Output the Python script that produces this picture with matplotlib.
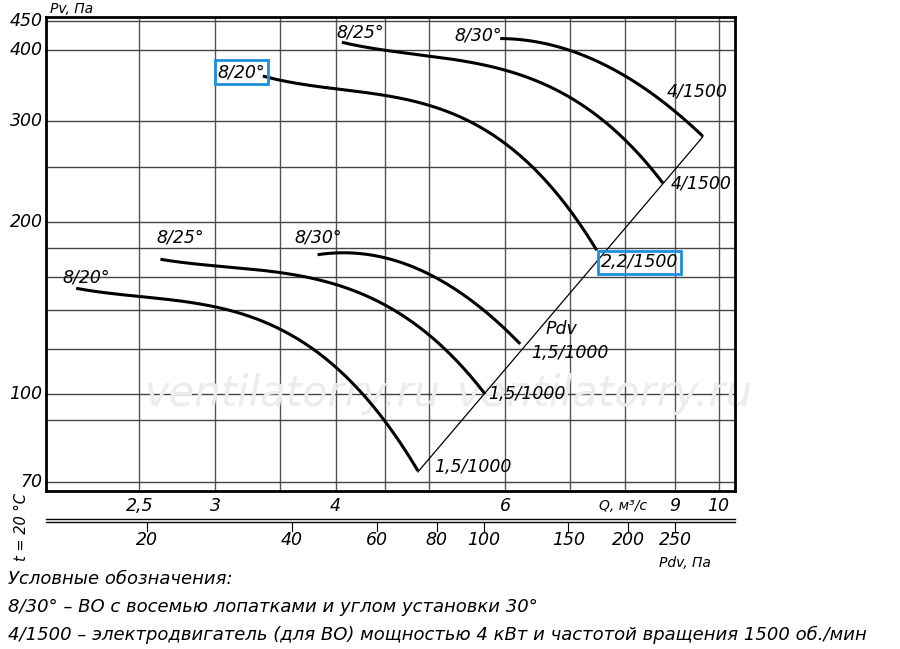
import matplotlib
matplotlib.use("Agg")
import matplotlib.pyplot as plt
import numpy as np

plt.rcParams['font.family'] = ['Liberation Sans Narrow', 'DejaVu Sans']
plt.rcParams['font.style'] = 'italic'

# Data: Q in m3/s, Pv in Pa
u20_q = [3.36, 4.0, 4.48, 5.0, 6.0, 7.0, 7.47]
u20_p = [359, 345, 334, 318, 271, 217, 175]
u25_q = [4.06, 4.48, 5.0, 6.0, 7.0, 8.0, 8.75]
u25_p = [412, 402, 389, 369, 331, 278, 234]
u30_q = [5.93, 7.0, 8.0, 9.0, 9.63]
u30_p = [419, 400, 359, 314, 282]
l20_q = [2.15, 2.5, 3.0, 3.5, 4.0, 4.48, 4.87]
l20_p = [152.7, 149, 141.5, 129.4, 111.5, 91.1, 73]
l25_q = [2.63, 3.0, 3.5, 4.0, 4.48, 5.0, 5.72]
l25_p = [171.7, 168.3, 163, 155, 143, 128, 99.6]
l30_q = [3.83, 4.48, 5.0, 5.97, 6.22]
l30_p = [176.6, 170, 163, 136, 118.5]
pdv_q = [4.87, 9.63]
pdv_p = [73, 282]

q_grid = [2.5, 3, 3.5, 4, 4.5, 5, 6, 7, 8, 9, 10]
q_labels = {2.5: "2,5", 3: "3", 4: "4", 6: "6", 9: "9", 10: "10"}
p_grid = [450, 400, 300, 250, 200, 180, 160, 140, 120, 100, 90, 70]
p_labels = [450, 400, 300, 200, 100, 70]
pdv_ticks = [20, 40, 60, 80, 100, 150, 200, 250]
pdv_k = 3.08  # Pdv = k * Q^2

fig = plt.figure(figsize=(9, 6.49), dpi=100)
ax = fig.add_axes([46/900, 1-491/649, 689/900, 474/649])
ax.set_xscale('log'); ax.set_yscale('log')
ax.set_xlim(2.0, 10.4); ax.set_ylim(67.6, 457)
ax.xaxis.set_major_locator(matplotlib.ticker.NullLocator())
ax.yaxis.set_major_locator(matplotlib.ticker.NullLocator())
ax.xaxis.set_minor_locator(matplotlib.ticker.NullLocator())
ax.yaxis.set_minor_locator(matplotlib.ticker.NullLocator())
for s in ax.spines.values():
    s.set_linewidth(2)

for q in q_grid:
    ax.axvline(q, color='#555555', lw=1, zorder=1)
for p in p_grid:
    ax.axhline(p, color='#444444', lw=1, zorder=1)

# watermark
for xq in [3.6, 7.6]:
    ax.text(xq, 100, "ventilatorry.ru", fontsize=30, color='#ececec',
            ha='center', va='center', zorder=1.5, family=['DejaVu Sans'], style='italic')

def smooth(q, p, deg):
    lq, lp = np.log10(q), np.log10(p)
    c = np.polyfit(lq, lp, deg)
    xs = np.linspace(lq[0], lq[-1], 200)
    return 10**xs, 10**np.polyval(c, xs)

for q, p in [(u20_q, u20_p), (u25_q, u25_p), (u30_q, u30_p),
             (l20_q, l20_p), (l25_q, l25_p), (l30_q, l30_p)]:
    xs, ys = smooth(q, p, 3 if len(q) > 5 else 2)
    ax.plot(xs, ys, color='black', lw=2.2, zorder=3, solid_capstyle='butt')
ax.plot(pdv_q, pdv_p, color='black', lw=0.9, zorder=3)

fs = 12.5
box = dict(boxstyle='square,pad=0.15', fc='none', ec='#1a8fe0', lw=2)
ax.text(3.19, 366, "8/20°", fontsize=fs, ha='center', va='center', bbox=box)
ax.text(4.24, 429, "8/25°", fontsize=fs, ha='center', va='center')
ax.text(5.62, 425, "8/30°", fontsize=fs, ha='center', va='center')
ax.text(9.5, 338, "4/1500", fontsize=fs, ha='center', va='center')
ax.text(9.6, 234, "4/1500", fontsize=fs, ha='center', va='center')
ax.text(8.28, 170, "2,2/1500", fontsize=fs, ha='center', va='center', bbox=box)
ax.text(6.87, 130, "Pdv", fontsize=fs, ha='center', va='center')
ax.text(7.0, 118, "1,5/1000", fontsize=fs, ha='center', va='center')
ax.text(6.32, 100, "1,5/1000", fontsize=fs, ha='center', va='center')
ax.text(5.56, 74.5, "1,5/1000", fontsize=fs, ha='center', va='center')
ax.text(2.76, 187.6, "8/25°", fontsize=fs, ha='center', va='center')
ax.text(3.84, 187.6, "8/30°", fontsize=fs, ha='center', va='center')
ax.text(2.2, 160, "8/20°", fontsize=fs, ha='center', va='center')

trans = ax.get_xaxis_transform()
def ay(py):
    return (491 - py) / 474

for p in p_labels:
    ax.text(-0.005, p, str(p), transform=ax.get_yaxis_transform(), ha='right',
            va='center', fontsize=fs)
for q, lab in q_labels.items():
    ax.text(q, ay(506), lab, transform=trans, ha='center', va='center', fontsize=fs, clip_on=False)
ax.text(7.95, ay(506), "Q, м³/с", transform=trans, ha='center', va='center', fontsize=10, clip_on=False)

# Pdv scale
ax.plot([2.0, 10.4], [ay(519)]*2, transform=trans, color='black', lw=1, clip_on=False)
ax.plot([2.0, 10.4], [ay(522)]*2, transform=trans, color='black', lw=1, clip_on=False)
for pv in pdv_ticks:
    qq = np.sqrt(pv / pdv_k)
    ax.plot([qq, qq], [ay(522), ay(531)], transform=trans, color='black', lw=0.8, clip_on=False)
    ax.text(qq, ay(540), str(pv), transform=trans, ha='center', va='center', fontsize=fs, clip_on=False)

fig.text(685/900, 1-563/649, "Pdv, Па", fontsize=10, ha='center', va='center')
fig.text(50/900, 1-9/649, "Pv, Па", fontsize=10, ha='left', va='center')
fig.text(22/900, 1-527/649, "t = 20 °C", fontsize=10.5, rotation=90, ha='center', va='center')

lfs = 13
fig.text(8/900, 1-579/649, "Условные обозначения:", fontsize=lfs, ha='left', va='center')
fig.text(8/900, 1-607/649, "8/30° – ВО с восемью лопатками и углом установки 30°", fontsize=lfs, ha='left', va='center')
fig.text(8/900, 1-635/649, "4/1500 – электродвигатель (для ВО) мощностью 4 кВт и частотой вращения 1500 об./мин", fontsize=lfs, ha='left', va='center')

fig.savefig("out.png", dpi=100)
